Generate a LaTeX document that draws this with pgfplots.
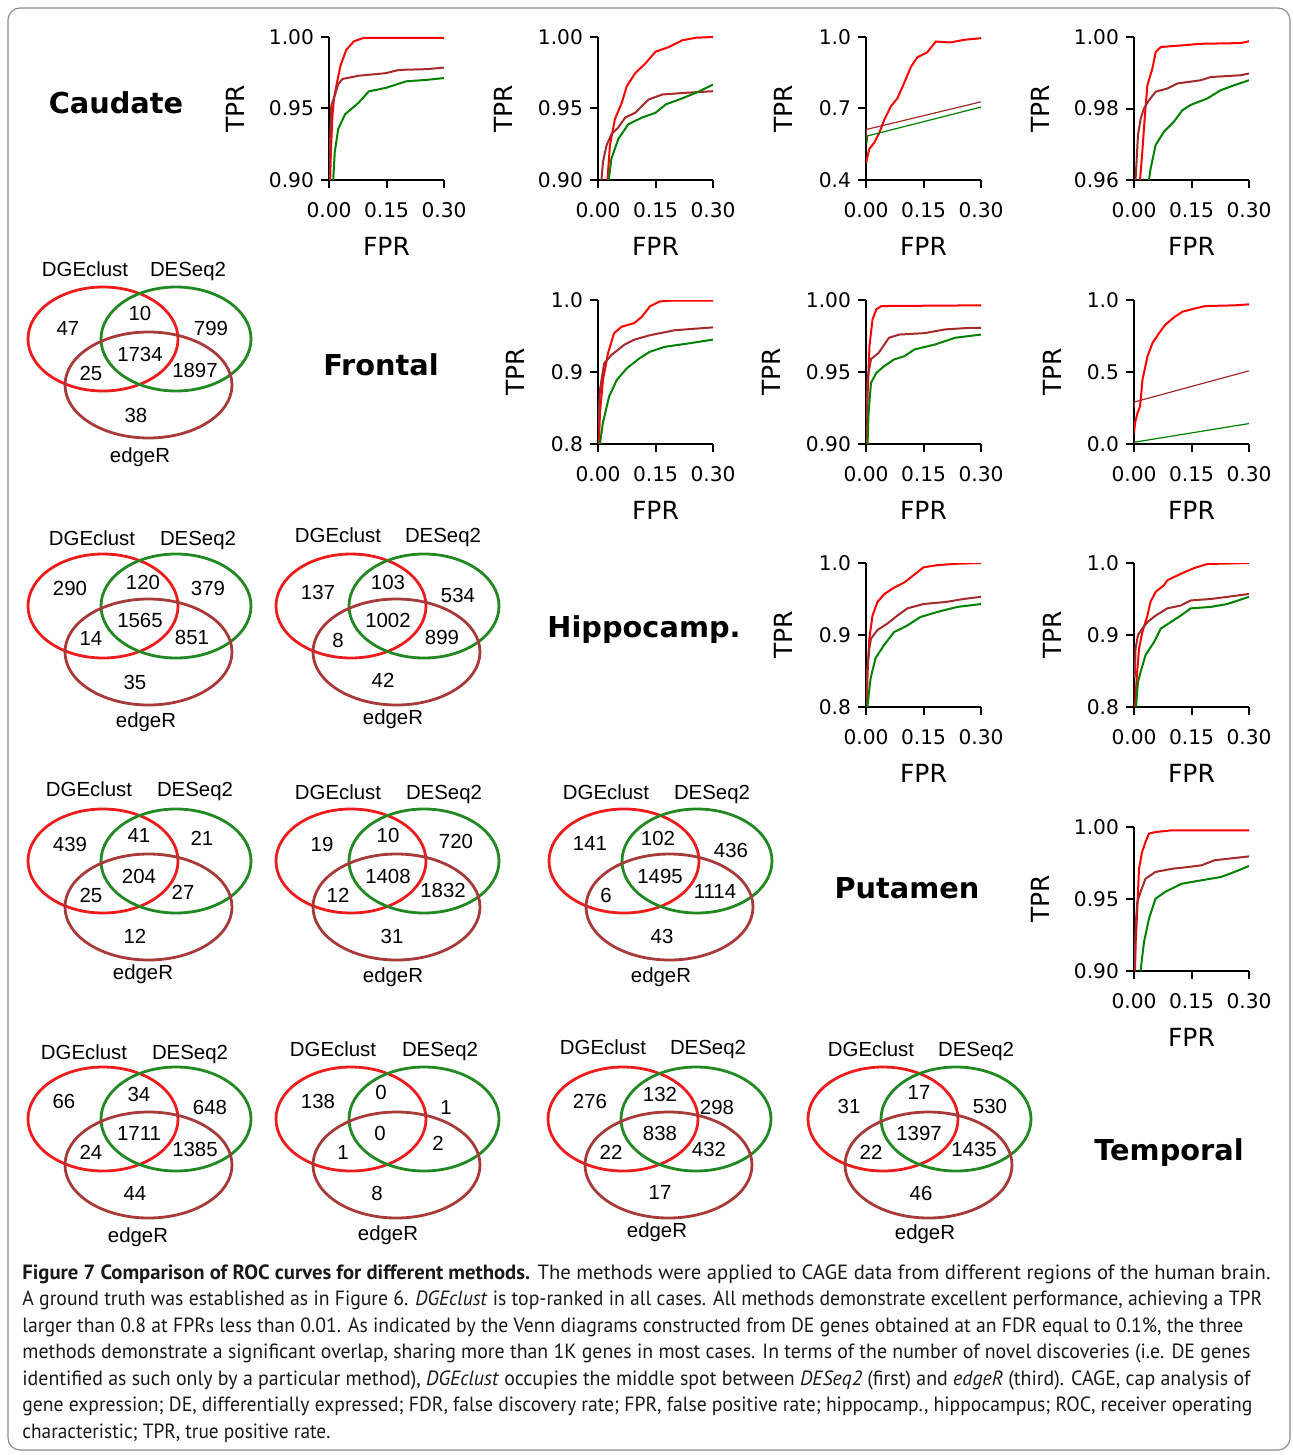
\documentclass[border=0pt]{standalone}
\usepackage{fontspec}
\usepackage{graphicx}
\setmainfont{DejaVu Sans}
\newfontfamily\vennfont{Liberation Sans}
\newfontfamily\capfont{PT Sans}
\usepackage{pgfplots}
\pgfplotsset{compat=1.18}
\definecolor{rocred}{RGB}{255,0,0}
\definecolor{rocbrown}{RGB}{165,42,42}
\definecolor{rocgreen}{RGB}{0,128,0}
\definecolor{vred}{RGB}{238,28,28}
\definecolor{vgreen}{RGB}{34,136,34}
\definecolor{vbrown}{RGB}{168,58,58}
\pgfplotsset{
  roc/.style={
    scale only axis, width=57.5pt, height=72pt,
    xmin=0, xmax=0.3, enlargelimits=false,
    axis lines=left, axis line style={-, line width=1pt},
    tick align=outside, major tick length=4pt,
    every tick/.style={black, line width=1pt},
    xtick={0,0.15,0.3}, xticklabels={0.00,0.15,0.30},
    /pgf/number format/assume math mode=true,
    ticklabel style={font=\fontsize{10.1}{12}\selectfont},
    xticklabel style={yshift=-3.5pt},
    label style={font=\fontsize{12.5}{14}\selectfont},
    xlabel={FPR}, ylabel={TPR},
    xlabel style={at={(axis description cs:0.5,-0.462)}, anchor=center},
    ylabel style={at={(axis description cs:#1,0.5)}, anchor=center},
  },
  rr/.style={rocred, line width=1pt},
  rb/.style={rocbrown, line width=1pt},
  rg/.style={rocgreen, line width=1pt},
}
\newcommand{\vt}[3]{\node[font=\vennfont\fontsize{10.2}{12}\selectfont, anchor=base, inner sep=0pt] at (#1,-#2-7) {#3};}
\newcommand{\venn}[2]{%
  \begin{scope}[shift={(#1,-#2)}]
    \draw[vred, line width=1.4pt] (0,0) ellipse [x radius=37.5pt, y radius=26pt];
    \draw[vgreen, line width=1.4pt] (73,0) ellipse [x radius=37.5pt, y radius=26pt];
    \draw[vbrown, line width=1.4pt] (45.5,-46) ellipse [x radius=41.75pt, y radius=26.5pt];
  \end{scope}}
\newcommand{\diag}[3]{\node[font=\bfseries\fontsize{14.4}{17}\selectfont, anchor=base, inner sep=0pt] at (#1,-#2-10.5) {#3};}
\newcommand{\AT}[2]{at={(#1*0.5pt,-#2*0.5pt)}, anchor=south west}
\newcommand{\capline}[2]{\resizebox{#1pt}{\height}{#2}}
\begin{document}
\begin{tikzpicture}[x=0.5pt,y=0.5pt]
\path[use as bounding box] (0,0) rectangle (1292,-1455);
\draw[black!45, line width=0.6pt, rounded corners=6pt] (8,-8) rectangle (1290,-1450);

% diagonal labels
\diag{116}{103}{Caudate}
\diag{381}{365}{Frontal}
\diag{644}{627}{Hippocamp.}
\diag{907}{888}{Putamen}
\diag{1169}{1150}{Temporal}

% ---------------- ROC row 1 ----------------
\begin{axis}[roc=-0.817, \AT{329}{180}, height=71.5pt,
  ymin=0.9, ymax=1.0, ytick={0.9,0.95,1.0}, yticklabels={0.90,0.95,1.00}]
\addplot[rr] coordinates {(0.003,0.90)(0.005,0.92)(0.009,0.945)(0.013,0.957)(0.02,0.967)(0.03,0.98)(0.045,0.991)(0.065,0.997)(0.09,0.9993)(0.30,0.9993)};
\addplot[rb] coordinates {(0.0,0.90)(0.002,0.92)(0.006,0.952)(0.015,0.959)(0.024,0.967)(0.035,0.9706)(0.077,0.9729)(0.148,0.9747)(0.183,0.977)(0.254,0.9775)(0.30,0.9786)};
\addplot[rg] coordinates {(0.011,0.90)(0.015,0.9195)(0.024,0.9356)(0.042,0.946)(0.077,0.954)(0.104,0.962)(0.148,0.9644)(0.201,0.969)(0.254,0.970)(0.30,0.9713)};
\end{axis}

\begin{axis}[roc=-0.826, \AT{598}{180}, height=71.5pt,
  ymin=0.9, ymax=1.0, ytick={0.9,0.95,1.0}, yticklabels={0.90,0.95,1.00}]
\addplot[rr] coordinates {(0.0247,0.90)(0.031,0.924)(0.044,0.9425)(0.062,0.954)(0.075,0.9655)(0.097,0.9747)(0.124,0.9816)(0.15,0.9897)(0.185,0.993)(0.22,0.9977)(0.256,0.9995)(0.30,1.0)};
\addplot[rb] coordinates {(0.009,0.90)(0.013,0.9126)(0.022,0.924)(0.035,0.932)(0.053,0.9368)(0.071,0.9437)(0.097,0.947)(0.132,0.9563)(0.168,0.9598)(0.23,0.961)(0.30,0.9621)};
\addplot[rg] coordinates {(0.028,0.90)(0.035,0.915)(0.053,0.9287)(0.079,0.939)(0.115,0.9437)(0.15,0.947)(0.177,0.9529)(0.212,0.9563)(0.256,0.961)(0.30,0.9667)};
\end{axis}

\begin{axis}[roc=-0.722, \AT{866}{180}, height=71.5pt,
  ymin=0.4, ymax=1.0, ytick={0.4,0.7,1.0}, yticklabels={0.4,0.7,1.0}]
\addplot[rr] coordinates {(0.0,0.47)(0.004,0.50)(0.0086,0.530)(0.022,0.558)(0.035,0.599)(0.048,0.654)(0.065,0.709)(0.082,0.743)(0.099,0.805)(0.117,0.874)(0.134,0.915)(0.16,0.936)(0.182,0.981)(0.22,0.977)(0.255,0.988)(0.30,0.995)};
\addplot[rocbrown, line width=0.6pt] coordinates {(0,0.56)(0.001,0.612)(0.30,0.728)};
\addplot[rocgreen, line width=0.6pt] coordinates {(0.002,0.55)(0.004,0.585)(0.30,0.706)};
\end{axis}

\begin{axis}[roc=-0.817, \AT{1134}{180}, height=71.5pt,
  ymin=0.96, ymax=1.0, ytick={0.96,0.98,1.0}, yticklabels={0.96,0.98,1.00}]
\addplot[rr] coordinates {(0.0157,0.96)(0.0217,0.9679)(0.0278,0.9772)(0.0348,0.9865)(0.048,0.9912)(0.0565,0.9958)(0.07,0.9972)(0.13,0.9977)(0.174,0.9981)(0.278,0.9983)(0.30,0.9988)};
\addplot[rb] coordinates {(0.004,0.96)(0.0104,0.9726)(0.0174,0.9772)(0.026,0.980)(0.039,0.9823)(0.0565,0.9847)(0.087,0.9856)(0.113,0.987)(0.174,0.9879)(0.2,0.9888)(0.278,0.9893)(0.30,0.9898)};
\addplot[rg] coordinates {(0.039,0.96)(0.0435,0.9633)(0.0565,0.9698)(0.078,0.9735)(0.104,0.9763)(0.126,0.9795)(0.148,0.981)(0.191,0.9828)(0.226,0.9851)(0.261,0.9865)(0.30,0.9879)};
\end{axis}

% ---------------- ROC row 2 ----------------
\begin{axis}[roc=-0.722, \AT{598}{444},
  ymin=0.8, ymax=1.0, ytick={0.8,0.9,1.0}, yticklabels={0.8,0.9,1.0}]
\addplot[rr] coordinates {(0.0026,0.80)(0.005,0.843)(0.013,0.889)(0.026,0.926)(0.042,0.954)(0.062,0.963)(0.095,0.968)(0.115,0.977)(0.135,0.991)(0.161,0.998)(0.188,0.999)(0.30,0.999)};
\addplot[rb] coordinates {(0.0,0.82)(0.005,0.875)(0.016,0.912)(0.036,0.924)(0.069,0.938)(0.095,0.945)(0.135,0.951)(0.2,0.958)(0.30,0.962)};
\addplot[rg] coordinates {(0.005,0.80)(0.013,0.83)(0.029,0.866)(0.049,0.889)(0.075,0.905)(0.108,0.919)(0.135,0.928)(0.174,0.935)(0.24,0.94)(0.30,0.945)};
\end{axis}

\begin{axis}[roc=-0.826, \AT{866}{444},
  ymin=0.9, ymax=1.0, ytick={0.9,0.95,1.0}, yticklabels={0.90,0.95,1.00}]
\addplot[rr] coordinates {(0.0027,0.90)(0.004,0.933)(0.009,0.968)(0.017,0.9865)(0.027,0.9935)(0.04,0.9958)(0.30,0.9963)};
\addplot[rb] coordinates {(0.0013,0.917)(0.004,0.945)(0.013,0.959)(0.033,0.9633)(0.06,0.9738)(0.087,0.976)(0.153,0.977)(0.207,0.9796)(0.273,0.9807)(0.30,0.9807)};
\addplot[rg] coordinates {(0.004,0.90)(0.0067,0.9216)(0.013,0.9425)(0.027,0.9494)(0.047,0.954)(0.073,0.9587)(0.1,0.961)(0.127,0.9657)(0.18,0.9691)(0.233,0.9738)(0.30,0.976)};
\end{axis}

\begin{axis}[roc=-0.713, \AT{1134}{444},
  ymin=0.0, ymax=1.0, ytick={0,0.5,1.0}, yticklabels={0.0,0.5,1.0}]
\addplot[rr] coordinates {(0,0.076)(0.0026,0.145)(0.009,0.215)(0.0157,0.26)(0.022,0.446)(0.035,0.607)(0.048,0.70)(0.062,0.757)(0.081,0.827)(0.107,0.885)(0.127,0.919)(0.16,0.942)(0.186,0.958)(0.265,0.963)(0.30,0.97)};
\addplot[rocbrown, line width=0.6pt] coordinates {(0,0.25)(0.001,0.292)(0.30,0.508)};
\addplot[rocgreen, line width=0.6pt] coordinates {(0,0.012)(0.30,0.142)};
\end{axis}

% ---------------- ROC row 3 ----------------
\begin{axis}[roc=-0.722, \AT{866}{707},
  ymin=0.8, ymax=1.0, ytick={0.8,0.9,1.0}, yticklabels={0.8,0.9,1.0}]
\addplot[rr] coordinates {(0.0017,0.80)(0.0043,0.849)(0.0086,0.895)(0.017,0.927)(0.03,0.946)(0.048,0.957)(0.074,0.966)(0.1,0.973)(0.124,0.983)(0.15,0.994)(0.186,0.997)(0.238,0.999)(0.30,1.0)};
\addplot[rb] coordinates {(0.0,0.80)(0.0026,0.849)(0.0086,0.881)(0.013,0.895)(0.03,0.907)(0.056,0.916)(0.082,0.927)(0.108,0.937)(0.15,0.943)(0.21,0.946)(0.254,0.95)(0.30,0.953)};
\addplot[rg] coordinates {(0.0035,0.80)(0.012,0.84)(0.025,0.868)(0.047,0.886)(0.073,0.904)(0.107,0.913)(0.142,0.925)(0.186,0.932)(0.238,0.939)(0.30,0.943)};
\end{axis}

\begin{axis}[roc=-0.713, \AT{1134}{707},
  ymin=0.8, ymax=1.0, ytick={0.8,0.9,1.0}, yticklabels={0.8,0.9,1.0}]
\addplot[rr] coordinates {(0.0026,0.80)(0.007,0.84)(0.013,0.881)(0.0217,0.904)(0.035,0.927)(0.043,0.946)(0.0565,0.96)(0.078,0.969)(0.087,0.976)(0.122,0.985)(0.157,0.993)(0.191,0.9986)(0.30,1.0)};
\addplot[rb] coordinates {(0.0017,0.84)(0.004,0.881)(0.0104,0.90)(0.0217,0.909)(0.035,0.918)(0.0565,0.927)(0.087,0.937)(0.122,0.941)(0.148,0.948)(0.2,0.95)(0.30,0.957)};
\addplot[rg] coordinates {(0.005,0.80)(0.0104,0.835)(0.0174,0.849)(0.03,0.872)(0.052,0.89)(0.07,0.909)(0.096,0.918)(0.122,0.927)(0.148,0.937)(0.2,0.939)(0.243,0.943)(0.30,0.953)};
\end{axis}

% ---------------- ROC row 4 ----------------
\begin{axis}[roc=-0.817, \AT{1134}{971},
  ymin=0.9, ymax=1.0, ytick={0.9,0.95,1.0}, yticklabels={0.90,0.95,1.00}]
\addplot[rr] coordinates {(0.0026,0.90)(0.0043,0.92)(0.0086,0.9433)(0.013,0.971)(0.021,0.9826)(0.03,0.9896)(0.039,0.9954)(0.056,0.9965)(0.099,0.9977)(0.30,0.9977)};
\addplot[rb] coordinates {(0.0017,0.90)(0.0043,0.932)(0.0086,0.9479)(0.017,0.9549)(0.03,0.9641)(0.056,0.9688)(0.099,0.971)(0.141,0.9722)(0.176,0.9734)(0.21,0.9769)(0.30,0.9796)};
\addplot[rg] coordinates {(0.017,0.90)(0.026,0.92)(0.039,0.9363)(0.056,0.9502)(0.081,0.9549)(0.124,0.9606)(0.176,0.963)(0.227,0.9653)(0.262,0.9688)(0.30,0.9729)};
\end{axis}

% ---------------- Venn diagrams ----------------
% R2C1
\venn{103}{339}
\vt{85}{270}{DGEclust}\vt{188}{270}{DESeq2}\vt{140}{455}{edgeR}
\vt{68}{328}{47}\vt{140}{313}{10}\vt{211}{328}{799}\vt{140}{354}{1734}
\vt{91}{373}{25}\vt{195}{370}{1897}\vt{136}{415}{38}
% R3C1
\venn{103}{606}
\vt{92}{538}{DGEclust}\vt{198}{538}{DESeq2}\vt{146}{720}{edgeR}
\vt{70}{588}{290}\vt{143}{582}{120}\vt{208}{588}{379}\vt{140}{620}{1565}
\vt{91}{638}{14}\vt{192}{637}{851}\vt{135}{682}{35}
% R3C2
\venn{351}{606}
\vt{338}{535}{DGEclust}\vt{443}{535}{DESeq2}\vt{393}{717}{edgeR}
\vt{318}{592}{137}\vt{388}{582}{103}\vt{458}{595}{534}\vt{388}{620}{1002}
\vt{338}{640}{8}\vt{442}{637}{899}\vt{383}{680}{42}
% R4C1
\venn{103}{861}
\vt{89}{789}{DGEclust}\vt{195}{789}{DESeq2}\vt{143}{972}{edgeR}
\vt{70}{844}{439}\vt{139}{835}{41}\vt{202}{838}{21}\vt{139}{876}{204}
\vt{91}{895}{25}\vt{183}{892}{27}\vt{135}{936}{12}
% R4C2
\venn{351}{861}
\vt{338}{792}{DGEclust}\vt{444}{792}{DESeq2}\vt{393}{975}{edgeR}
\vt{322}{844}{19}\vt{388}{835}{10}\vt{456}{841}{720}\vt{388}{876}{1408}
\vt{338}{895}{12}\vt{443}{890}{1832}\vt{392}{936}{31}
% R4C3
\venn{624}{861}
\vt{606}{792}{DGEclust}\vt{712}{792}{DESeq2}\vt{661}{975}{edgeR}
\vt{590}{843}{141}\vt{658}{838}{102}\vt{731}{850}{436}\vt{660}{876}{1495}
\vt{606}{895}{6}\vt{715}{891}{1114}\vt{662}{936}{43}
% R5C1
\venn{103}{1119}
\vt{84}{1052}{DGEclust}\vt{190}{1052}{DESeq2}\vt{138}{1235}{edgeR}
\vt{64}{1101}{66}\vt{139}{1094}{34}\vt{210}{1107}{648}\vt{139}{1133}{1711}
\vt{91}{1152}{24}\vt{195}{1149}{1385}\vt{135}{1193}{44}
% R5C2
\venn{351}{1119}
\vt{333}{1049}{DGEclust}\vt{440}{1049}{DESeq2}\vt{388}{1233}{edgeR}
\vt{318}{1101}{138}\vt{381}{1092}{0}\vt{446}{1107}{1}\vt{380}{1133}{0}
\vt{343}{1152}{1}\vt{438}{1143}{2}\vt{377}{1193}{8}
% R5C3
\venn{623}{1119}
\vt{603}{1047}{DGEclust}\vt{708}{1047}{DESeq2}\vt{657}{1230}{edgeR}
\vt{590}{1101}{276}\vt{660}{1094}{132}\vt{717}{1107}{298}\vt{660}{1133}{838}
\vt{611}{1152}{22}\vt{709}{1149}{432}\vt{660}{1192}{17}
% R5C4
\venn{883}{1119}
\vt{871}{1049}{DGEclust}\vt{976}{1049}{DESeq2}\vt{925}{1232}{edgeR}
\vt{849}{1106}{31}\vt{919}{1092}{17}\vt{990}{1106}{530}\vt{919}{1133}{1397}
\vt{871}{1152}{22}\vt{974}{1149}{1435}\vt{921}{1193}{46}

% ---------------- caption ----------------
\node[anchor=north west, inner sep=0pt, align=left, text=black!90,
  font=\capfont\fontsize{10.3}{13.25}\selectfont] at (22,-1264) {%
\capline{624}{\textbf{Figure 7 Comparison of ROC curves for different methods.} The methods were applied to CAGE data from different regions of the human brain.}\\
\capline{620}{A ground truth was established as in Figure 6. \textit{DGEclust} is top-ranked in all cases. All methods demonstrate excellent performance, achieving a TPR}\\
\capline{610.5}{larger than 0.8 at FPRs less than 0.01. As indicated by the Venn diagrams constructed from DE genes obtained at an FDR equal to 0.1\%, the three}\\
\capline{614}{methods demonstrate a significant overlap, sharing more than 1K genes in most cases. In terms of the number of novel discoveries (i.e. DE genes}\\
\capline{614}{identified as such only by a particular method), \textit{DGEclust} occupies the middle spot between \textit{DESeq2} (first) and \textit{edgeR} (third). CAGE, cap analysis of}\\
\capline{615}{gene expression; DE, differentially expressed; FDR, false discovery rate; FPR, false positive rate; hippocamp., hippocampus; ROC, receiver operating}\\
\capline{154}{characteristic; TPR, true positive rate.}};
\end{tikzpicture}
\end{document}
